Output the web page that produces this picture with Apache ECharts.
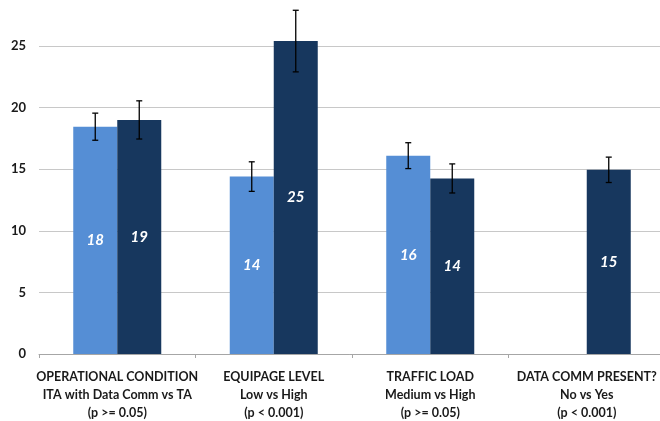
<!DOCTYPE html>
<html>
<head>
<meta charset="utf-8">
<script src="https://cdn.jsdelivr.net/npm/echarts@6/dist/echarts.min.js"></script>
<style>
  html, body { margin: 0; padding: 0; background: #fff; }
  #chart { width: 660px; height: 421px; }
</style>
</head>
<body>
<div id="chart"></div>
<script>
// Category labels (three lines each)
const categories = [
  'OPERATIONAL CONDITION\nITA with Data Comm vs TA\n(p >= 0.05)',
  'EQUIPAGE LEVEL\nLow vs High\n(p < 0.001)',
  'TRAFFIC LOAD\nMedium vs High\n(p >= 0.05)',
  'DATA COMM PRESENT?\nNo vs Yes\n(p < 0.001)'
];

// First condition of each comparison (light bars); null where absent
const firstValues = [18.45, 14.4, 16.1, null];
// Second condition of each comparison (dark bars)
const secondValues = [19.0, 25.4, 14.25, 14.95];

// Half-width of the error bars for each series
const firstErrors = [1.1, 1.2, 1.05, null];
const secondErrors = [1.55, 2.5, 1.18, 1.03];

const yTicks = { min: 0, max: 30, interval: 5 };

const BAR_W = 44;
const LIGHT = '#558ED5';
const DARK = '#17375E';

function errData(values, errs) {
  const out = [];
  values.forEach((v, i) => {
    if (v != null && errs[i] != null) out.push([i, v - errs[i], v + errs[i]]);
  });
  return out;
}

function errRenderer(offset) {
  return function (params, api) {
    const lo = api.coord([api.value(0), api.value(1)]);
    const hi = api.coord([api.value(0), api.value(2)]);
    const x = lo[0] + offset;
    const cap = 3;
    const style = { stroke: '#000', lineWidth: 1.3 };
    return {
      type: 'group',
      children: [
        { type: 'line', shape: { x1: x, y1: hi[1], x2: x, y2: lo[1] }, style },
        { type: 'line', shape: { x1: x - cap, y1: hi[1], x2: x + cap, y2: hi[1] }, style },
        { type: 'line', shape: { x1: x - cap, y1: lo[1], x2: x + cap, y2: lo[1] }, style }
      ]
    };
  };
}

const barLabel = {
  show: true,
  position: 'inside',
  color: '#fff',
  fontStyle: 'italic',
  fontWeight: 'bold',
  fontSize: 15,
  fontFamily: 'Lato',
  formatter: p => (p.value == null ? '' : Math.round(p.value).toString())
};

const chart = echarts.init(document.getElementById('chart'), null, { renderer: 'canvas' });
chart.setOption({
  animation: false,
  backgroundColor: '#fff',
  grid: {
    left: 39, top: -15.6, width: 626, height: 369.6,
    containLabel: false,
    outerBoundsMode: 'none'
  },
  xAxis: {
    type: 'category',
    data: categories,
    axisLine: { lineStyle: { color: '#a6a6a6', width: 1 } },
    axisTick: { show: true, length: 4, lineStyle: { color: '#a6a6a6' } },
    axisLabel: {
      interval: 0,
      margin: 14,
      fontFamily: 'Lato',
      fontWeight: 'bold',
      fontSize: 12.5,
      lineHeight: 18,
      color: '#1a1a1a'
    }
  },
  yAxis: {
    type: 'value',
    min: yTicks.min,
    max: yTicks.max,
    interval: yTicks.interval,
    axisLine: { show: false },
    axisTick: { show: false },
    splitLine: { lineStyle: { color: '#c8c8c8', width: 1 } },
    axisLabel: {
      margin: 13,
      fontFamily: 'Lato',
      fontWeight: 'bold',
      fontSize: 13,
      color: '#1a1a1a'
    }
  },
  series: [
    {
      type: 'bar',
      data: firstValues,
      barWidth: BAR_W,
      barGap: '0%',
      itemStyle: { color: LIGHT },
      label: barLabel
    },
    {
      type: 'bar',
      data: secondValues,
      barWidth: BAR_W,
      barGap: '0%',
      itemStyle: { color: DARK },
      label: barLabel
    },
    {
      type: 'custom',
      data: errData(firstValues, firstErrors),
      encode: { x: 0, y: [1, 2] },
      renderItem: errRenderer(-BAR_W / 2),
      clip: false,
      z: 5
    },
    {
      type: 'custom',
      data: errData(secondValues, secondErrors),
      encode: { x: 0, y: [1, 2] },
      renderItem: errRenderer(BAR_W / 2),
      clip: false,
      z: 5
    }
  ]
});
</script>
</body>
</html>
